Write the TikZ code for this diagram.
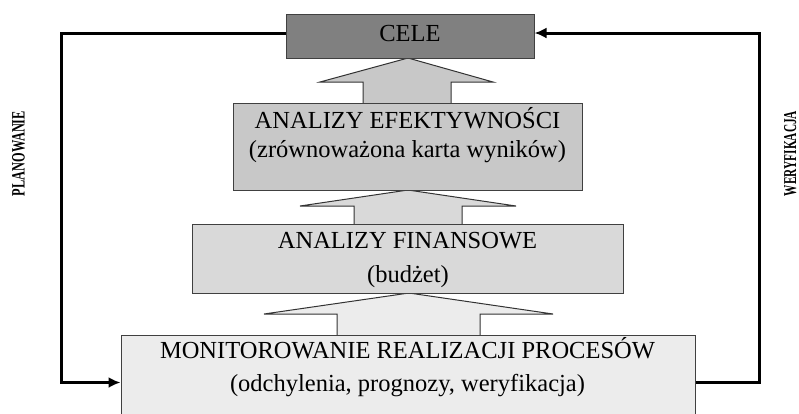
\documentclass[tikz,border=0pt]{standalone}
\usepackage{fontspec}
\setmainfont{Liberation Serif}
\usepackage{graphicx}
\usetikzlibrary{arrows.meta, calc}

\definecolor{celefill}{gray}{0.5}
\definecolor{efektfill}{gray}{0.785}
\definecolor{finansfill}{gray}{0.85}
\definecolor{monitfill}{gray}{0.925}

\tikzset{
  box/.style={draw=black!75, line width=1pt, inner sep=0pt},
  line/.style={anchor=base, inner sep=0pt, font=\fontsize{24.5}{28}\selectfont},
  blockarrow/.style={draw=black!80, line width=1pt, line join=miter},
  loopline/.style={line width=3pt, -{Latex[length=12pt,width=11pt]}},
  sidelabel/.style={rotate=90, anchor=base, inner sep=0pt}
}

\begin{document}
\begin{tikzpicture}[x=1pt, y=-1pt]
    \useasboundingbox (0,0) rectangle (799,413);

    % block arrows between the levels
    \fill[efektfill] (363,105) -- (363,82) -- (320,82) -- (408,58) -- (493,82) -- (451,82) -- (451,105) -- cycle;
    \draw[blockarrow] (363,105) -- (363,82) -- (320,82) -- (408,58) -- (493,82) -- (451,82) -- (451,105);
    \fill[finansfill] (354,226) -- (354,206) -- (300,206) -- (408,190) -- (516,206) -- (462,206) -- (462,226) -- cycle;
    \draw[blockarrow] (354,226) -- (354,206) -- (300,206) -- (408,190) -- (516,206) -- (462,206) -- (462,226);
    \fill[monitfill] (337,337) -- (337,314) -- (264,314) -- (409,293) -- (553,314) -- (480,314) -- (480,337) -- cycle;
    \draw[blockarrow] (337,337) -- (337,314) -- (264,314) -- (409,293) -- (553,314) -- (480,314) -- (480,337);

    % boxes
    \node[box, fill=celefill, minimum width=248pt, minimum height=44pt] (cele) at (410,36) {};
    \node[box, fill=efektfill, minimum width=349pt, minimum height=87pt] (efekt) at (407.5,146.5) {};
    \node[box, fill=finansfill, minimum width=431pt, minimum height=69pt] (finans) at (407.5,258.5) {};
    \node[box, fill=monitfill, minimum width=574pt, minimum height=95pt] (monit) at (408,382.5) {};

    % texts
    \node[line] (cele-t) at (410,41.3) {CELE};
    \node[line] (efekt-a) at (407.5,128.3) {ANALIZY EFEKTYWNOŚCI};
    \node[line] (efekt-b) at (407.5,157.5) {(zrównoważona karta wyników)};
    \node[line] (finans-a) at (407.5,248) {ANALIZY FINANSOWE};
    \node[line] (finans-b) at (408,282) {(budżet)};
    \node[line] (monit-a) at (407.5,358.3) {MONITOROWANIE REALIZACJI PROCESÓW};
    \node[line] (monit-b) at (407.5,391.5) {(odchylenia, prognozy, weryfikacja)};

    % feedback loop
    \coordinate (plan-top) at (61,33);
    \coordinate (plan-bot) at (61,382.5);
    \coordinate (wer-top) at (759,33);
    \coordinate (wer-bot) at (759,382.5);
    \draw[loopline] ([yshift=3pt]cele.west) -- (plan-top) -- (plan-bot) -- (monit.west);
    \draw[loopline] (monit.east) -- (wer-bot) -- (wer-top) -- ([yshift=3pt]cele.east);

    \node[sidelabel] (planowanie) at (24.5,153.5) {\resizebox{85pt}{12.5pt}{\bfseries PLANOWANIE}};
    \node[sidelabel] (weryfikacja) at (796,153.5) {\resizebox{85pt}{12pt}{\bfseries WERYFIKACJA}};
\end{tikzpicture}
\end{document}
